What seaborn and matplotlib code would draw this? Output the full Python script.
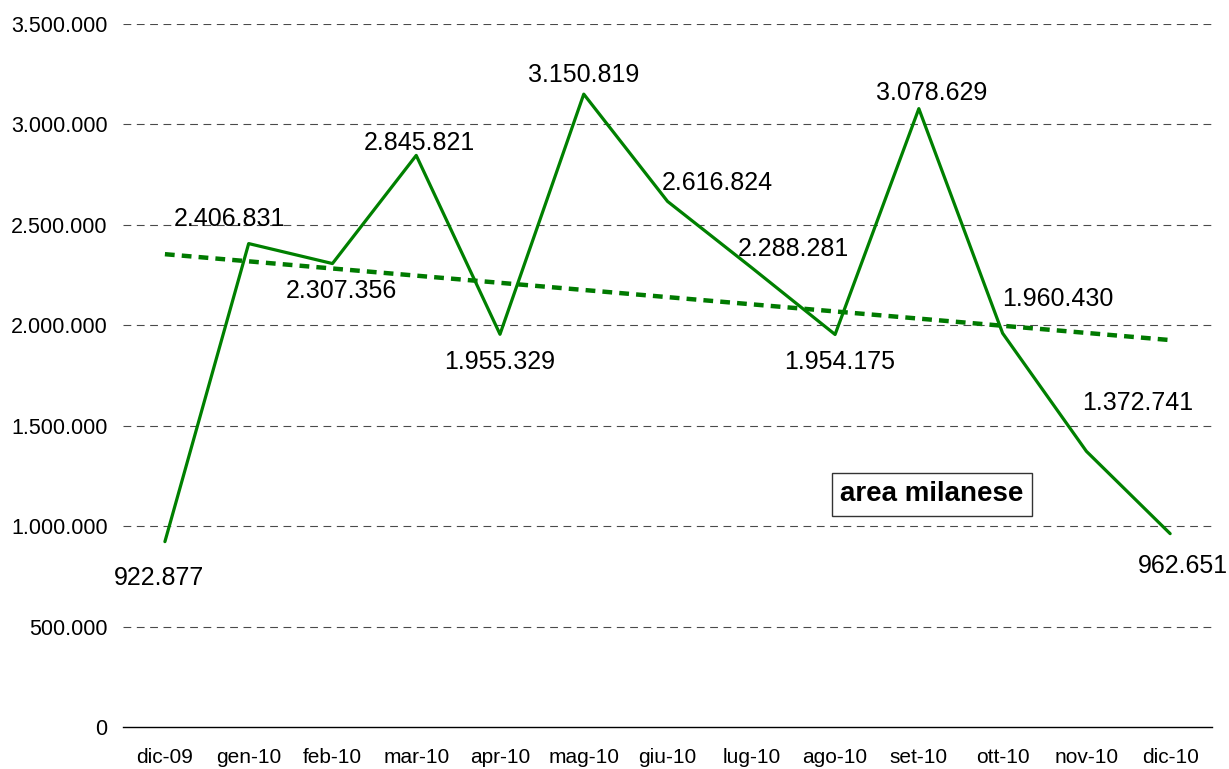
import numpy as np
import pandas as pd
import matplotlib
matplotlib.use('Agg')
import matplotlib.pyplot as plt
import seaborn as sns
from matplotlib.ticker import FuncFormatter, FixedLocator

# Dati
mesi = ['dic-09', 'gen-10', 'feb-10', 'mar-10', 'apr-10', 'mag-10', 'giu-10',
        'lug-10', 'ago-10', 'set-10', 'ott-10', 'nov-10', 'dic-10']
valori = [922877, 2406831, 2307356, 2845821, 1955329, 3150819, 2616824,
          2288281, 1954175, 3078629, 1960430, 1372741, 962651]
titolo_box = 'area milanese'

# spostamento etichette (punti)
offset_etichette = [(-4, -26), (-14, 18), (6.5, -20), (2, 9), (0, -20), (0, 14),
                    (36, 13), (30, 13), (3.6, -20), (9, 11.5), (40, 25), (37, 35), (9, -23)]

df = pd.DataFrame({'mese': mesi, 'valore': valori})
df['pos'] = np.arange(len(mesi))

sns.set_style('white')
plt.rcParams['font.family'] = ['Liberation Sans', 'DejaVu Sans']
plt.rcParams['text.color'] = 'black'
plt.rcParams['xtick.color'] = 'black'
plt.rcParams['ytick.color'] = 'black'

fig = plt.figure(figsize=(12.29, 7.69), dpi=100)
ax = fig.add_axes([0.1001, 0.0546, 0.8861, 0.9142])

sns.regplot(data=df, x='pos', y='valore', ax=ax, scatter=False, ci=None,
            line_kws={'color': '#007a00', 'lw': 3.2, 'ls': (0, (2.2, 1.6))})
sns.lineplot(data=df, x='pos', y='valore', ax=ax, color='#008000', lw=2.3)

for (x, y), off in zip(zip(df['pos'], df['valore']), offset_etichette):
    testo = f'{y:,}'.replace(',', '.')
    ax.annotate(testo, (x, y), xytext=off, textcoords='offset points',
                ha='center', va='center', fontsize=18, color='black')

ax.set_xlim(-0.5, len(mesi) - 0.5)
ax.set_ylim(0, 3500000)
ax.yaxis.set_major_locator(FixedLocator(np.arange(0, 3500001, 500000)))
ax.yaxis.set_major_formatter(FuncFormatter(lambda v, p: f'{int(v):,}'.replace(',', '.')))
ax.xaxis.set_major_locator(FixedLocator(np.arange(-0.5, len(mesi), 1)))
ax.xaxis.set_minor_locator(FixedLocator(np.arange(len(mesi))))
ax.set_xticklabels([], minor=False)
ax.set_xticklabels(mesi, minor=True)
ax.tick_params(axis='x', which='major', length=6, width=1, color='#808080', direction='out')
ax.tick_params(axis='x', which='minor', length=0, pad=15, labelsize=15)
ax.tick_params(axis='y', length=0, pad=11, labelsize=15.5)
ax.set_xlabel('')
ax.set_ylabel('')

for v in np.arange(500000, 3500001, 500000):
    ax.axhline(v, color='#4a4a4a', lw=0.8, ls=(0, (7, 5)), zorder=0)

for s in ['top', 'right', 'left']:
    ax.spines[s].set_visible(False)
ax.spines['bottom'].set_color('black')
ax.spines['bottom'].set_linewidth(1)

ax.text(0.743, 0.331, titolo_box, transform=ax.transAxes, ha='center', va='center',
        fontsize=20, fontweight='bold', color='black',
        bbox=dict(boxstyle='square,pad=0.3', fc='white', ec='#333333', lw=1))

fig.savefig('out.png', dpi=100)
